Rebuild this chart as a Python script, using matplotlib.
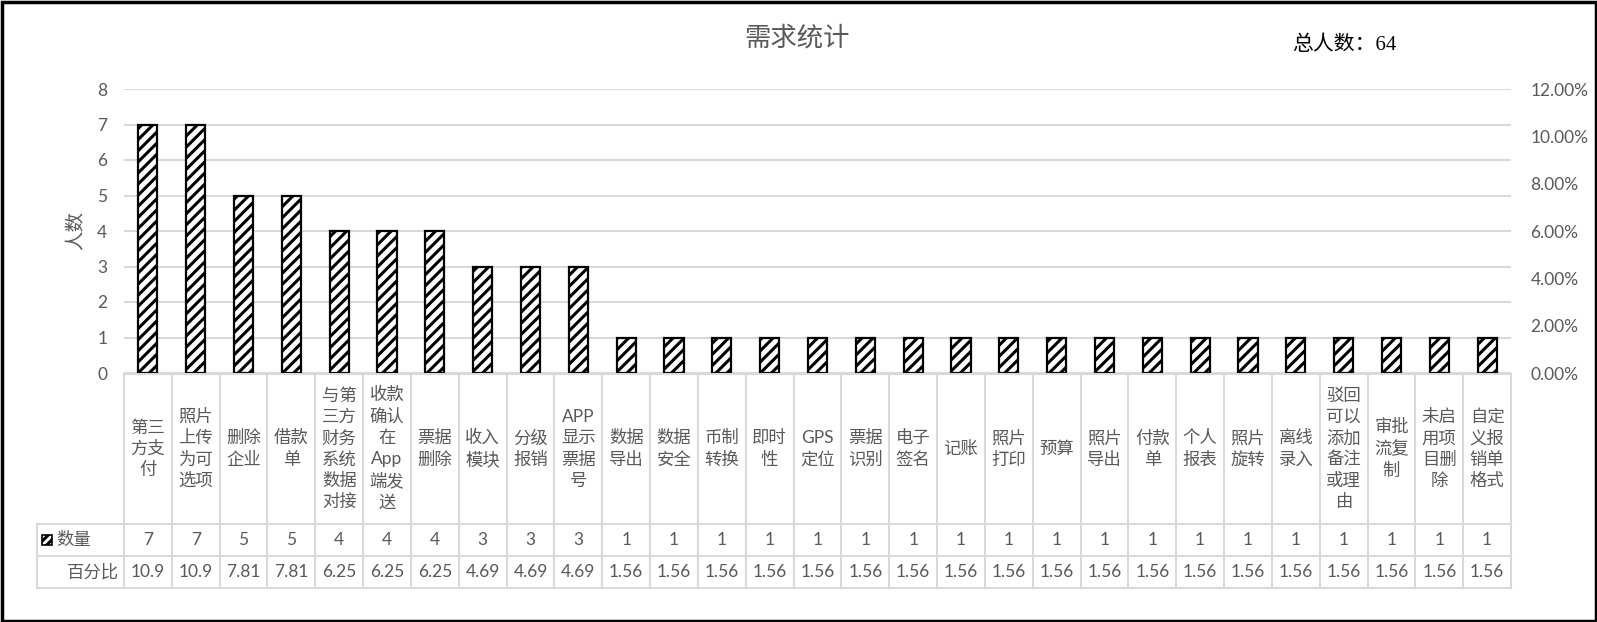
import re
import matplotlib
matplotlib.use('Agg')
import matplotlib.pyplot as plt
from matplotlib.patches import Rectangle

plt.rcParams['font.family'] = ['Lato', 'Noto Sans CJK SC', 'DejaVu Sans']
plt.rcParams['hatch.linewidth'] = 2.2

# data
categories = ['第三方支付', '照片上传为可选项', '删除企业', '借款单', '与第三方财务系统数据对接',
              '收款确认在App端发送', '票据删除', '收入模块', '分级报销', 'APP显示票据号',
              '数据导出', '数据安全', '币制转换', '即时性', 'GPS定位', '票据识别', '电子签名',
              '记账', '照片打印', '预算', '照片导出', '付款单', '个人报表', '照片旋转', '离线录入',
              '驳回可以添加备注或理由', '审批流复制', '未启用项目删除', '自定义报销单格式']
counts = [7, 7, 5, 5, 4, 4, 4, 3, 3, 3, 1, 1, 1, 1, 1, 1, 1, 1, 1, 1, 1, 1, 1, 1, 1, 1, 1, 1, 1]
percents = [10.9, 10.9, 7.81, 7.81, 6.25, 6.25, 6.25, 4.69, 4.69, 4.69, 1.56, 1.56, 1.56, 1.56,
            1.56, 1.56, 1.56, 1.56, 1.56, 1.56, 1.56, 1.56, 1.56, 1.56, 1.56, 1.56, 1.56, 1.56, 1.56]
total = 64
count_ticks = [0, 1, 2, 3, 4, 5, 6, 7, 8]
pct_ticks = [0, 2, 4, 6, 8, 10, 12]

GRAY = '#595959'
LINE = '#d9d9d9'
W, H = 1597, 622
FS = 12.5


def wrap(s, n=2):
    # two chinese chars per line, a latin word gets its own line
    lines, cur, w = [], '', 0
    for t in re.findall(r'[A-Za-z]+|.', s):
        tw = n if t.isascii() else 1
        if cur and w + tw > n:
            lines.append(cur)
            cur, w = '', 0
        cur += t
        w += tw
    lines.append(cur)
    return '\n'.join(lines)


fig = plt.figure(figsize=(W / 100, H / 100), dpi=100)
x0, x1, ytop, ybot = 124, 1511, 89, 373
ax = fig.add_axes([x0 / W, 1 - ybot / H, (x1 - x0) / W, (ybot - ytop) / H])
n = len(categories)
xs = list(range(n))
ax.bar(xs, counts, width=0.4, color='white', edgecolor='black', hatch='///', linewidth=1.6, zorder=3)
ax.set_xlim(-0.5, n - 0.5)
ax.set_ylim(0, 8)
ax.set_yticks(count_ticks)
ax.set_xticks([])
ax.yaxis.grid(True, color=LINE, lw=1.5, zorder=0)
for s in ax.spines.values():
    s.set_visible(False)
ax.tick_params(axis='y', length=0, pad=12, labelsize=12.5, labelcolor=GRAY)

ax2 = ax.twinx()
ax2.set_ylim(0, 12)
ax2.set_yticks(pct_ticks)
ax2.set_yticklabels([f'{v:.2f}%' for v in pct_ticks])
for s in ax2.spines.values():
    s.set_visible(False)
ax2.tick_params(axis='y', length=0, pad=14, labelsize=12.5, labelcolor=GRAY)

# data table under the bars
t_top, t_cat, t_r1, t_r2 = 374, 524, 556, 588
tab = fig.add_axes([x0 / W, 1 - t_r2 / H, (x1 - x0) / W, (t_r2 - t_top) / H])
tab.set_xlim(-0.5, n - 0.5)
tab.set_ylim(t_r2, t_top)
tab.axis('off')
colw = (x1 - x0) / n


def px(p):
    return -0.5 + (p - x0) / colw


hx = px(37)
kw = dict(color=LINE, lw=1.5, clip_on=False)
tab.plot([-0.5, n - 0.5], [t_top, t_top], **kw)
for yy in (t_cat, t_r1, t_r2):
    tab.plot([hx, n - 0.5], [yy, yy], **kw)
for i in range(n + 1):
    tab.plot([i - 0.5, i - 0.5], [t_top, t_r2], **kw)
tab.plot([hx, hx], [t_cat, t_r2], **kw)

for i, c in enumerate(categories):
    tab.text(i, (t_top + t_cat) / 2, wrap(c), ha='center', va='center', fontsize=FS,
             color=GRAY, linespacing=1.4, clip_on=False)
    tab.text(i, (t_cat + t_r1) / 2, f'{counts[i]}', ha='center', va='center', fontsize=FS, color=GRAY)
    tab.text(i, (t_r1 + t_r2) / 2, f'{percents[i]:g}', ha='center', va='center', fontsize=FS, color=GRAY)

tab.add_patch(Rectangle((px(42), 535), px(52) - px(42), 10, facecolor='white', edgecolor='black',
                        hatch='////', lw=1.2, clip_on=False))
tab.text(px(56), (t_cat + t_r1) / 2, '数量', ha='left', va='center', fontsize=FS, color=GRAY, clip_on=False)
tab.text(px(119), (t_r1 + t_r2) / 2, '百分比', ha='right', va='center', fontsize=FS, color=GRAY, clip_on=False)

fig.text(797 / W, 1 - 38 / H, '需求统计', ha='center', va='center', fontsize=19, color=GRAY)
fig.text(1292 / W, 1 - 45 / H, f'总人数：{total}', ha='left', va='center', fontsize=15, color='black',
         family=['Liberation Serif', 'Noto Sans CJK SC'])
fig.text(76 / W, 1 - 231 / H, '人数', ha='center', va='center', rotation=90, fontsize=14, color=GRAY)

fig.patches.append(Rectangle((1.5 / W, 1.5 / H), 1 - 3 / W, 1 - 3 / H, transform=fig.transFigure,
                             fill=False, edgecolor='black', lw=2.5))

fig.savefig('out.png', dpi=100)
